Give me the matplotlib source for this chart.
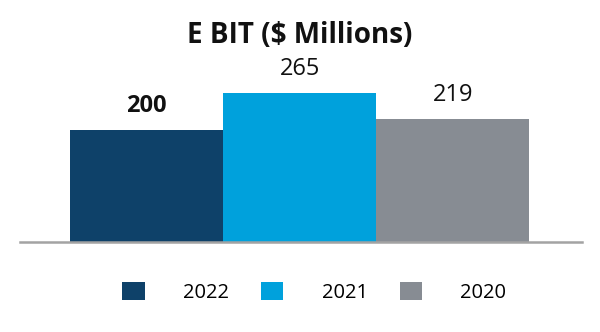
import matplotlib.pyplot as plt

plt.rcParams['font.family'] = ['Open Sans', 'DejaVu Sans']

years = ['2022', '2021', '2020']
ebit = [200, 265, 219]
colors = ['#0e4169', '#00a1dc', '#878c93']

fig = plt.figure(figsize=(6, 3.32), dpi=100)
ax = fig.add_axes([0.0333, 0.271, 0.937, 0.5])

bars = ax.bar(range(len(years)), ebit, width=1.0, color=colors, label=years)
ax.set_xlim(-0.827, 2.846)
ax.set_ylim(0, 296)

for i, (b, v) in enumerate(zip(bars, ebit)):
    ax.annotate(str(v), (b.get_x() + b.get_width() / 2, v),
                xytext=(0, 17.5), textcoords='offset points',
                ha='center', va='center', fontsize=17,
                fontweight='bold' if i == 0 else 'normal', color='#111111')

# only the bottom line
for s in ['top', 'left', 'right']:
    ax.spines[s].set_visible(False)
ax.spines['bottom'].set_color('#a3a3a3')
ax.spines['bottom'].set_linewidth(1.8)
ax.set_xticks([])
ax.set_yticks([])

fig.text(0.5, 0.893, 'E BIT ($ Millions)', ha='center', va='center',
         fontsize=20, fontweight='bold', color='#111111')

fig.legend(handles=list(bars), labels=years, loc='center', ncol=3,
           bbox_to_anchor=(0.524, 0.12), frameon=False, fontsize=14.5,
           handlelength=1.1, handleheight=1.06, handletextpad=1.9,
           columnspacing=1.6)

fig.savefig('out.png', dpi=100)
